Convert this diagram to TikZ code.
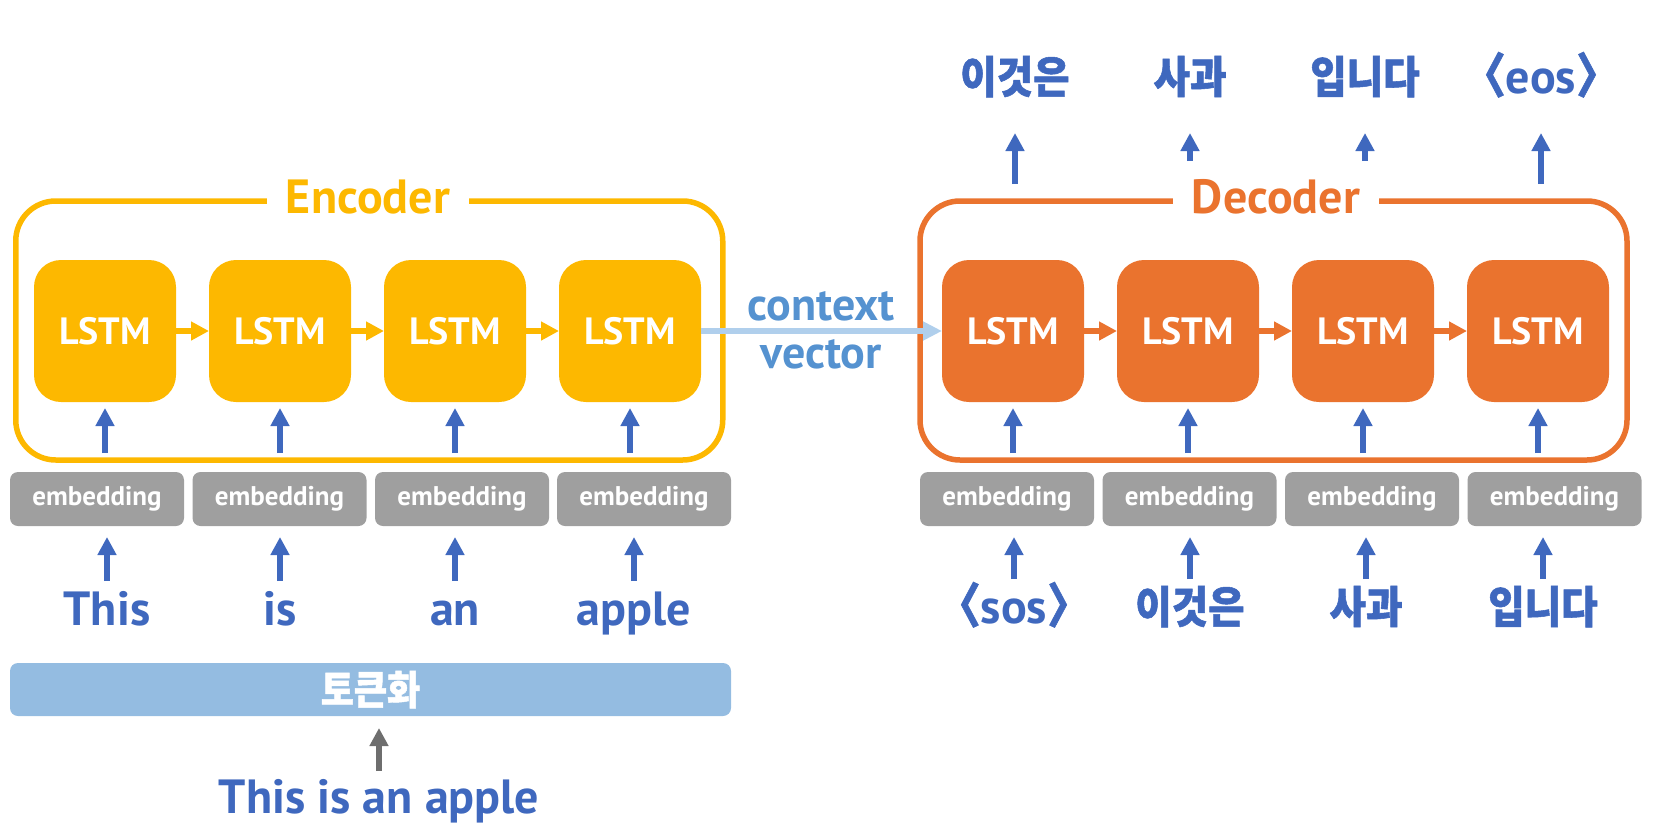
\documentclass[tikz,border=0pt]{standalone}
\usepackage{fontspec}
\setmainfont{PT Sans}
\newfontfamily\kr[FakeStretch=0.9, BoldFeatures={FakeBold=1.2}]{Noto Sans CJK KR}
\usetikzlibrary{arrows.meta,calc}
\definecolor{encC}{HTML}{FDB800}
\definecolor{decC}{HTML}{EA732E}
\definecolor{blueT}{HTML}{3F68BE}
\definecolor{ctxT}{HTML}{5592D0}
\definecolor{ctxA}{HTML}{B0CFEC}
\definecolor{tokC}{HTML}{94BCE1}
\definecolor{embC}{HTML}{9F9F9F}
\definecolor{grayA}{HTML}{6E6E6E}
\newcommand\brl{{\kr\bfseries\kern-.5em〈}}
\newcommand\brr{{\kr\bfseries〉\kern-.5em}}
\begin{document}
\begin{tikzpicture}[x=1pt,y=-1pt,
 lstm/.style={rectangle, rounded corners=27pt, minimum width=142pt, minimum height=142pt, inner sep=0pt, outer sep=0pt, text=white, font=\fontsize{38}{38}\selectfont\bfseries},
 lstmE/.style={lstm, fill=encC},
 lstmD/.style={lstm, fill=decC},
 outerbox/.style={rectangle, line width=5.5pt, rounded corners=40pt, minimum width=707pt, minimum height=259pt, inner sep=0pt, outer sep=0pt},
 titlebox/.style={fill=white, inner xsep=19pt, inner ysep=2pt, anchor=base, font=\fontsize{48}{48}\selectfont\bfseries},
 emb/.style={rectangle, rounded corners=8pt, fill=embC, minimum width=174pt, minimum height=54pt, inner sep=0pt, outer sep=0pt, text=white, font=\fontsize{27}{27}\selectfont\bfseries},
 word/.style={inner sep=0pt, outer sep=0pt, anchor=base, text=blueT, text height=34pt, text depth=10pt, font=\fontsize{48}{48}\selectfont\bfseries},
 kword/.style={word, font=\fontsize{44}{44}\selectfont\kr\bfseries},
 tokbox/.style={rectangle, rounded corners=8pt, fill=tokC, minimum width=721pt, minimum height=53pt, inner sep=0pt, outer sep=0pt, text=white, font=\fontsize{40}{40}\selectfont\kr\bfseries},
 ctxtext/.style={inner sep=0pt, anchor=base, text=ctxT, font=\fontsize{46}{46}\selectfont\bfseries},
 uparrow/.style={draw=blueT, line width=6pt, -{Triangle[length=18pt,width=18pt]}},
 grayarrow/.style={draw=grayA, line width=6pt, -{Triangle[length=18pt,width=18pt]}},
 chainE/.style={draw=encC, line width=5.5pt, -{Triangle[length=18pt,width=18pt]}},
 chainD/.style={draw=decC, line width=5.5pt, -{Triangle[length=18pt,width=18pt]}},
 ctxarrow/.style={draw=ctxA, line width=6pt, -{Triangle[length=19pt,width=18pt]}}
]
\useasboundingbox (0,0) rectangle (1660,838);
% outer boxes
\node[outerbox, draw=encC] (encbox) at (369.25,330.5) {};
\node[outerbox, draw=decC] (decbox) at (1273.5,330.5) {};
\node[titlebox, text=encC] (enctitle) at (368,213) {Encoder};
\node[titlebox, text=decC] (dectitle) at (1276,213) {Decoder};
% LSTM cells
\node[lstmE] (e1) at (105,331) {LSTM};
\node[lstmE] (e2) at (280,331) {LSTM};
\node[lstmE] (e3) at (455,331) {LSTM};
\node[lstmE] (e4) at (630,331) {LSTM};
\node[lstmD] (d1) at (1013,331) {LSTM};
\node[lstmD] (d2) at (1188,331) {LSTM};
\node[lstmD] (d3) at (1363,331) {LSTM};
\node[lstmD] (d4) at (1538,331) {LSTM};
\draw[chainE] (e1.east) -- (e2.west);
\draw[chainE] (e2.east) -- (e3.west);
\draw[chainE] (e3.east) -- (e4.west);
\draw[chainD] (d1.east) -- (d2.west);
\draw[chainD] (d2.east) -- (d3.west);
\draw[chainD] (d3.east) -- (d4.west);
% context vector
\draw[ctxarrow] (e4.east) -- (d1.west);
\node[ctxtext] (ctx1) at (821,320) {context};
\node[ctxtext] (ctx2) at (821,368) {vector};
% embeddings
\node[emb] (eb1) at (97,499) {embedding};
\node[emb] (eb2) at (279.5,499) {embedding};
\node[emb] (eb3) at (462,499) {embedding};
\node[emb] (eb4) at (644,499) {embedding};
\node[emb] (db1) at (1007,499) {embedding};
\node[emb] (db2) at (1189.5,499) {embedding};
\node[emb] (db3) at (1372,499) {embedding};
\node[emb] (db4) at (1554.5,499) {embedding};
\foreach \i in {1,...,4}{
  \draw[uparrow, shorten <=19pt, shorten >=6pt] (e\i.south |- eb\i.north) -- (e\i.south);
  \draw[uparrow, shorten <=19pt, shorten >=6pt] (d\i.south |- db\i.north) -- (d\i.south);
}
% encoder input words
\node[word] (w1) at (107,625) {This};
\node[word] (w2) at (280,625) {is};
\node[word] (w3) at (455,625) {an};
\node[word] (w4) at (634,625) {apple};
% decoder input words
\node[word] (v1) at (1014,623) {\brl sos\brr};
\node[kword] (v2) at (1190,623) {이것은};
\node[kword] (v3) at (1366,623) {사과};
\node[kword] (v4) at (1543,623) {입니다};
\foreach \i in {1,...,4}{
  \draw[uparrow, shorten <=10pt, shorten >=11pt] (w\i.north) -- (w\i.north |- eb\i.south);
  \draw[uparrow, shorten <=10pt, shorten >=11pt] (v\i.north) -- (v\i.north |- db\i.south);
}
% outputs
\node[kword, text depth=5pt] (o1) at (1015,93) {이것은};
\node[kword, text depth=5pt] (o2) at (1190,93) {사과};
\node[kword, text depth=5pt] (o3) at (1365,93) {입니다};
\node[word, text depth=5pt] (o4) at (1541,93) {\brl eos\brr};
\draw[uparrow, shorten <=76pt, shorten >=35pt] (o1.south |- d1.north) -- (o1.south);
\draw[uparrow, shorten <=99pt, shorten >=35pt] (o2.south |- d2.north) -- (o2.south);
\draw[uparrow, shorten <=99pt, shorten >=35pt] (o3.south |- d3.north) -- (o3.south);
\draw[uparrow, shorten <=76pt, shorten >=35pt] (o4.south |- d4.north) -- (o4.south);
% tokenizer
\node[tokbox] (tok) at (370.5,689.5) {토큰화};
\node[word] (sent) at (379,813) {This is an apple};
\draw[grayarrow, shorten <=8pt, shorten >=12pt] (sent.north) -- (sent.north |- tok.south);
\end{tikzpicture}
\end{document}
